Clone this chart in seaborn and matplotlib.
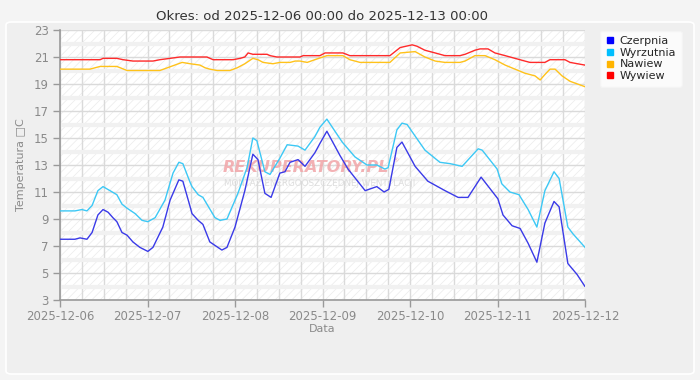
import matplotlib
matplotlib.use("Agg")
import matplotlib.pyplot as plt
import matplotlib.dates as mdates
from matplotlib.patches import FancyBboxPatch, Rectangle
from matplotlib.lines import Line2D
import seaborn as sns
import numpy as np
import pandas as pd

# hours since 2025-12-06 00:00, values in degrees C
czerpnia_h = [0, 4.1, 5.5, 7.4, 8.8, 10.4, 11.8, 13.2, 14.5, 15.6, 17.0, 18.4, 20.0, 21.9,
              24.1, 25.5, 28.2, 30.2, 32.6, 33.7, 35.7, 36.2, 37.9, 39.2, 41.1, 44.4, 45.8,
              48.0, 50.7, 52.9, 54.3, 56.2, 57.9, 60.3, 61.7, 63.1, 65.3, 67.2, 69.9, 71.3,
              73.2, 76.8, 79.0, 83.7, 86.9, 88.9, 90.2, 92.4, 93.8, 97.4, 100.9, 105.6,
              109.2, 111.9, 115.5, 120.1, 121.5, 124.0, 126.2, 128.4, 130.8, 133.0, 135.5,
              136.9, 139.3, 141.8, 144]
czerpnia_v = [7.5, 7.5, 7.6, 7.5, 8.0, 9.3, 9.7, 9.5, 9.1, 8.8, 8.0, 7.8, 7.3, 6.9,
              6.6, 6.9, 8.4, 10.4, 11.9, 11.8, 9.9, 9.4, 8.9, 8.6, 7.3, 6.7, 6.9,
              8.4, 11.1, 13.8, 13.4, 10.9, 10.6, 12.4, 12.5, 13.2, 13.4, 12.9, 13.9, 14.6,
              15.5, 13.7, 12.7, 11.1, 11.4, 11.0, 11.2, 14.3, 14.7, 12.9, 11.8, 11.1,
              10.6, 10.6, 12.1, 10.5, 9.3, 8.5, 8.3, 7.2, 5.8, 8.7, 10.3,
              9.9, 5.7, 4.9, 4.0]

wyrzutnia_h = [0, 4.1, 6.0, 7.4, 8.8, 10.4, 11.8, 13.7, 15.6, 17.0, 18.4, 20.6, 22.5, 24.1,
               26.1, 28.8, 31.0, 32.6, 33.7, 35.7, 36.2, 37.9, 39.2, 42.5, 43.9, 45.8, 48.8,
               51.3, 52.9, 54.0, 56.2, 57.6, 60.3, 62.3, 65.3, 67.2, 69.9, 71.3, 73.2, 77.4,
               80.9, 84.2, 86.9, 89.1, 90.0, 92.4, 93.8, 95.2, 100.1, 104.2, 107.0, 110.3,
               114.7, 115.8, 119.9, 121.2, 123.4, 125.9, 128.4, 130.8, 133.0, 135.5, 136.9,
               139.3, 140.7, 144]
wyrzutnia_v = [9.6, 9.6, 9.7, 9.6, 10.0, 11.1, 11.4, 11.1, 10.8, 10.1, 9.8, 9.4, 8.9, 8.8,
               9.1, 10.4, 12.4, 13.2, 13.1, 11.7, 11.4, 10.8, 10.6, 9.1, 8.9, 9.0, 10.9,
               12.8, 15.0, 14.8, 12.5, 12.3, 13.5, 14.5, 14.4, 14.1, 15.1, 15.8, 16.4, 14.7,
               13.6, 13.0, 13.0, 12.7, 12.8, 15.6, 16.1, 16.0, 14.1, 13.2, 13.1, 12.9,
               14.2, 14.1, 12.7, 11.6, 11.0, 10.8, 9.7, 8.4, 11.1, 12.5, 12.0,
               8.4, 7.9, 6.9]

wywiew_h = [0, 11.0, 11.8, 15.6, 17.3, 20.0, 25.5, 27.4, 30.2, 32.9, 40.3, 42.0, 47.5, 49.4,
            50.7, 51.6, 52.9, 56.8, 57.6, 59.5, 65.8, 66.7, 71.3, 72.7, 77.6, 79.5, 90.5,
            93.3, 96.6, 97.9, 100.1, 102.9, 105.6, 109.7, 111.1, 113.8, 115.2, 117.4, 119.3,
            122.1, 124.8, 127.5, 128.9, 133.0, 134.4, 138.5, 139.9, 144]
wywiew_v = [20.8, 20.8, 20.9, 20.9, 20.8, 20.7, 20.7, 20.8, 20.9, 21.0, 21.0, 20.8, 20.8, 20.9,
            21.0, 21.3, 21.2, 21.2, 21.1, 21.0, 21.0, 21.1, 21.1, 21.3, 21.3, 21.1, 21.1,
            21.7, 21.9, 21.8, 21.5, 21.3, 21.1, 21.1, 21.2, 21.5, 21.6, 21.6, 21.3,
            21.1, 20.9, 20.7, 20.6, 20.6, 20.8, 20.8, 20.6, 20.4]

nawiew_h = [0, 8.2, 11.0, 15.6, 18.4, 27.4, 33.5, 35.7, 38.4, 39.8, 41.1, 43.1, 46.6, 48.6,
            50.7, 52.9, 54.3, 55.7, 58.4, 60.3, 63.1, 64.5, 65.8, 67.8, 69.9, 73.2, 77.6,
            79.5, 82.3, 90.5, 93.3, 97.4, 100.1, 102.9, 105.6, 109.7, 111.1, 113.8, 116.6,
            119.3, 122.1, 124.8, 127.5, 130.3, 131.7, 133.0, 134.4, 135.8, 137.7, 139.9, 144]
nawiew_v = [20.1, 20.1, 20.3, 20.3, 20.0, 20.0, 20.6, 20.5, 20.4, 20.2, 20.1, 20.0, 20.0, 20.2,
            20.5, 20.9, 20.8, 20.6, 20.5, 20.6, 20.6, 20.7, 20.7, 20.6, 20.8, 21.1, 21.1,
            20.8, 20.6, 20.6, 21.3, 21.4, 21.0, 20.7, 20.6, 20.6, 20.7, 21.1, 21.1,
            20.8, 20.4, 20.1, 19.8, 19.6, 19.3, 19.7, 20.1, 20.1, 19.6, 19.2, 18.8]

START = pd.Timestamp("2025-12-06 00:00")
SERIES = {
    "Czerpnia": (czerpnia_h, czerpnia_v),
    "Wyrzutnia": (wyrzutnia_h, wyrzutnia_v),
    "Nawiew": (nawiew_h, nawiew_v),
    "Wywiew": (wywiew_h, wywiew_v),
}
LINE_COLORS = {"Czerpnia": "#3a3ae8", "Wyrzutnia": "#3cc8f5",
               "Nawiew": "#ffc21a", "Wywiew": "#ff2a2a"}
LEGEND_COLORS = {"Czerpnia": "#0000ff", "Wyrzutnia": "#00bfff",
                 "Nawiew": "#ffb400", "Wywiew": "#ff0000"}

frames = []
for name, (hours, vals) in SERIES.items():
    frames.append(pd.DataFrame({
        "time": START + pd.to_timedelta(hours, unit="h"),
        "temp": vals,
        "series": name,
    }))
df = pd.concat(frames, ignore_index=True)

sns.set_theme(style="white")
plt.rcParams["font.family"] = ["DejaVu Sans"]
plt.rcParams["hatch.color"] = "#eeeeee"
plt.rcParams["hatch.linewidth"] = 0.6

fig = plt.figure(figsize=(7, 3.8), dpi=100, facecolor="#f4f4f4")
fig.patches.append(FancyBboxPatch((6 / 700, 6 / 380), 688 / 700, 352 / 380,
                                  boxstyle="round,pad=0,rounding_size=0.008",
                                  transform=fig.transFigure, facecolor="#efefef",
                                  edgecolor="#ffffff", linewidth=1.2, zorder=-10))
ax = fig.add_axes([60 / 700, 1 - 300 / 380, 525 / 700, 270 / 380])
ax.set_facecolor("white")
ax.add_patch(Rectangle((0, 0), 1, 1, transform=ax.transAxes, facecolor="white",
                       edgecolor="#eeeeee", hatch="////", linewidth=0, zorder=0))

sns.lineplot(data=df, x="time", y="temp", hue="series", palette=LINE_COLORS,
             estimator=None, sort=True, legend=False, linewidth=1.0, ax=ax, zorder=3)

ax.set_xlim(START, START + pd.Timedelta(days=6))
ax.set_ylim(3, 23)
ax.set_yticks(np.arange(3, 24, 2))
ax.set_yticks(np.arange(4, 23, 2), minor=True)
ax.xaxis.set_major_locator(mdates.DayLocator())
ax.xaxis.set_minor_locator(mdates.HourLocator(byhour=[6, 12, 18]))
ax.xaxis.set_major_formatter(mdates.DateFormatter("%Y-%m-%d"))

ax.grid(which="major", axis="both", color="#dadada", linewidth=1.0, zorder=1)
ax.grid(which="minor", axis="x", color="#dadada", linewidth=1.0, zorder=1)
ax.grid(which="minor", axis="y", color="#f1f1f1", linewidth=3.0, zorder=1)
ax.set_axisbelow(True)

for side in ("top", "right"):
    ax.spines[side].set_visible(False)
for side in ("left", "bottom"):
    ax.spines[side].set_color("#999999")
    ax.spines[side].set_linewidth(1.2)
ax.tick_params(axis="both", which="major", length=5, width=1, color="#999999",
               labelcolor="#8a8a8a", labelsize=8.5, direction="out")
ax.tick_params(axis="both", which="minor", length=0)
ax.tick_params(axis="y", pad=3)
ax.tick_params(axis="x", pad=2)
ax.tick_params(left=True, bottom=True)

ax.set_xlabel("Data", color="#8a8a8a", fontsize=8, labelpad=1)
ax.set_ylabel("Temperatura \u25a1C", color="#8a8a8a", fontsize=8, labelpad=6)
ax.set_title("Okres: od 2025-12-06 00:00 do 2025-12-13 00:00",
             color="#333333", fontsize=9.5, pad=7)

# watermark
ax.text(0.310, 0.49, "REKUPERATORY.PL", transform=ax.transAxes, ha="left",
        va="center", fontsize=11.5, fontweight="bold", fontstyle="italic",
        color="#f2a5a8", alpha=0.85, zorder=2)
ax.text(0.632, 0.515, "\u00ae", transform=ax.transAxes, ha="left", va="center",
        fontsize=4.5, color="#f2a5a8", zorder=2)
ax.text(0.312, 0.433, "MONTAŻ ENERGOOSZCZĘDNEJ WENTYLACJI", transform=ax.transAxes,
        ha="left", va="center", fontsize=6.3, color="#dddddd", zorder=2)

handles = [Line2D([], [], marker="s", linestyle="none", markersize=5,
                  markerfacecolor=c, markeredgecolor=c, label=n)
           for n, c in LEGEND_COLORS.items()]
leg = fig.legend(handles=handles, loc="upper left",
                 bbox_to_anchor=(594 / 700, 1 - 25 / 380), frameon=True,
                 fontsize=8, handlelength=0.8, handletextpad=0.5,
                 labelspacing=0.15, borderpad=0.5, fancybox=True)
leg.get_frame().set_facecolor("white")
leg.get_frame().set_edgecolor("#f4f4f4")
leg.get_frame().set_linewidth(1.0)

fig.savefig("out.png", dpi=100, facecolor=fig.get_facecolor())
